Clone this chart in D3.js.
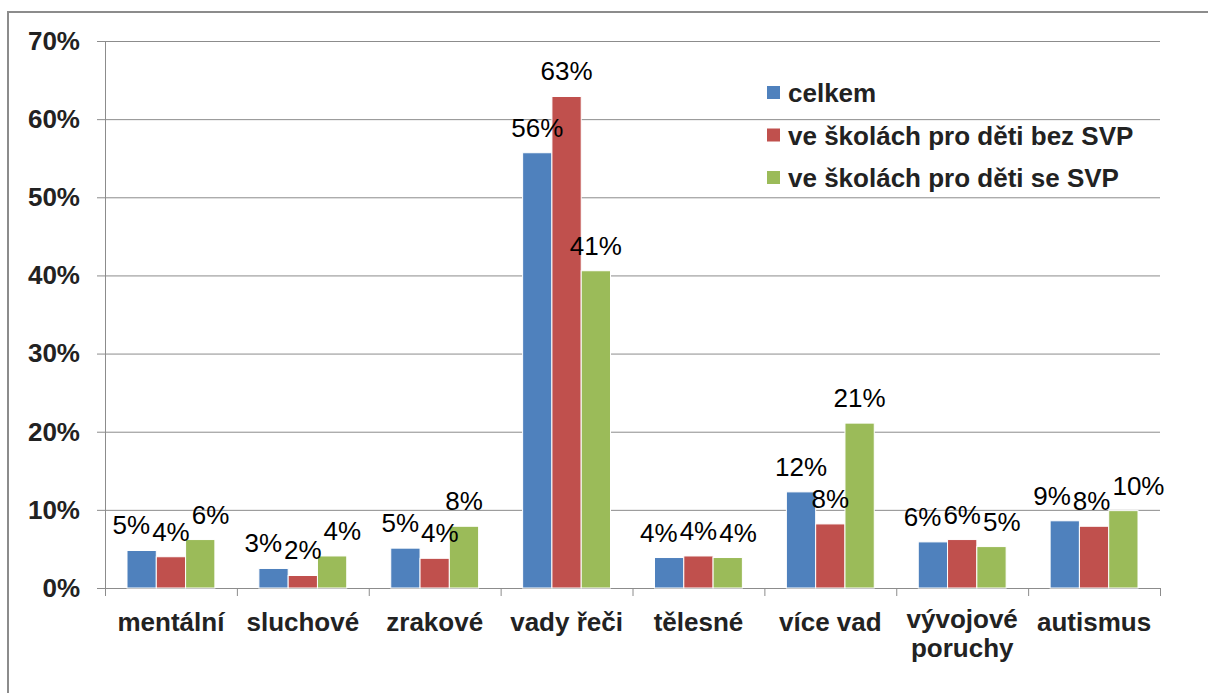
<!DOCTYPE html>
<html>
<head>
<meta charset="utf-8">
<script src="https://cdn.jsdelivr.net/npm/d3@7"></script>
<style>
  body { margin: 0; background: #fff; }
  text { font-family: "Liberation Sans", Arial, sans-serif; }
</style>
</head>
<body>
<div id="chart"></div>
<script>
// data
var categories = ["mentální", "sluchové", "zrakové", "vady řeči", "tělesné", "více vad", "vývojové poruchy", "autismus"];
var seriesNames = ["celkem", "ve školách pro děti bez SVP", "ve školách pro děti se SVP"];
var celkem   = [0.048, 0.025, 0.051, 0.557, 0.039, 0.123, 0.059, 0.086];
var bezSVP   = [0.040, 0.016, 0.038, 0.629, 0.041, 0.082, 0.062, 0.079];
var seSVP    = [0.062, 0.041, 0.079, 0.406, 0.039, 0.211, 0.053, 0.099];
var yTicks   = [0, 0.1, 0.2, 0.3, 0.4, 0.5, 0.6, 0.7];
var colors   = ["#4f81bd", "#c0504d", "#9bbb59"];

var seriesValues = [celkem, bezSVP, seSVP];

var W = 1208, H = 693;
var plotLeft = 105, plotRight = 1160, plotTop = 41, plotBottom = 588;

var svg = d3.select("#chart").append("svg")
    .attr("width", W)
    .attr("height", H);

// outer frame
svg.append("rect")
    .attr("x", 8).attr("y", 12)
    .attr("width", W + 20).attr("height", H + 20)
    .attr("fill", "#fff")
    .attr("stroke", "#8c8c8c")
    .attr("stroke-width", 2);

var y = d3.scaleLinear().domain([0, 0.7]).range([plotBottom, plotTop]);
var x = d3.scaleBand().domain(categories).range([plotLeft, plotRight]);
var x1 = d3.scaleBand().domain(d3.range(3)).range([22, x.bandwidth() - 22]);

// y axis + gridlines
var yAxis = svg.append("g")
    .attr("transform", "translate(" + plotLeft + ",0)")
    .call(d3.axisLeft(y).tickValues(yTicks).tickFormat(d3.format(".0%")).tickSize(8).tickPadding(17));
yAxis.select(".domain").attr("stroke", "#8c8c8c");
yAxis.selectAll(".tick line")
    .attr("x1", plotRight - plotLeft)
    .attr("x2", -8)
    .attr("stroke", "#8c8c8c");
yAxis.selectAll(".tick text")
    .attr("font-size", 26)
    .attr("font-weight", "bold")
    .attr("fill", "#222")
    .attr("font-family", "Liberation Sans, Arial, sans-serif");

// x axis tick marks at category boundaries
var xEdge = d3.scaleLinear().domain([0, categories.length]).range([plotLeft, plotRight]);
var xAxis = svg.append("g")
    .attr("transform", "translate(0," + plotBottom + ")")
    .call(d3.axisBottom(xEdge).ticks(categories.length).tickFormat("").tickSize(8));
xAxis.select(".domain").attr("stroke", "#8c8c8c");
xAxis.selectAll(".tick line").attr("stroke", "#8c8c8c");

// category labels
var catAxis = svg.append("g")
    .attr("transform", "translate(0," + plotBottom + ")")
    .call(d3.axisBottom(x).tickSize(0).tickPadding(0));
catAxis.select(".domain").remove();
catAxis.selectAll(".tick text")
    .attr("font-size", 26)
    .attr("font-weight", "bold")
    .attr("fill", "#222")
    .attr("font-family", "Liberation Sans, Arial, sans-serif")
    .attr("dy", null)
    .attr("y", 43)
    .each(function(d) {
        var t = d3.select(this);
        if (this.getComputedTextLength() > x.bandwidth()) {
            var words = d.split(" ");
            t.text(null);
            words.forEach(function(w, i) {
                t.append("tspan").attr("x", 0).attr("y", 40 + i * 29).text(w);
            });
        }
    });

// bars
var groups = svg.selectAll(".cat")
    .data(categories)
  .enter().append("g")
    .attr("class", "cat")
    .attr("transform", function(d) { return "translate(" + x(d) + ",0)"; });

groups.selectAll("rect")
    .data(function(d, i) { return seriesValues.map(function(s, k) { return {k: k, v: s[i]}; }); })
  .enter().append("rect")
    .attr("x", function(d) { return x1(d.k); })
    .attr("y", function(d) { return y(d.v); })
    .attr("width", x1.bandwidth())
    .attr("height", function(d) { return plotBottom - y(d.v); })
    .attr("fill", function(d) { return colors[d.k]; })
    .attr("stroke", "#fff")
    .attr("stroke-width", 1);

// data labels
groups.each(function(c, i) {
    var g = d3.select(this);
    var labels = seriesValues.map(function(s, k) {
        return {k: k, v: s[i], cx: x1(k) + x1.bandwidth() / 2, cy: y(s[i]) - 16};
    });
    var texts = g.selectAll(".lbl")
        .data(labels)
      .enter().append("text")
        .attr("class", "lbl")
        .attr("text-anchor", "middle")
        .attr("font-size", 26)
        .attr("fill", "#000")
        .attr("y", function(d) { return d.cy; })
        .text(function(d) { return d3.format(".0%")(d.v); });
    texts.each(function(d) { d.w = this.getComputedTextLength(); });
    // push apart labels sitting on the same level
    for (var it = 0; it < 10; it++) {
        for (var k = 0; k < labels.length - 1; k++) {
            var a = labels[k], b = labels[k + 1];
            if (Math.abs(a.cy - b.cy) > 20) continue;
            var overlap = (a.cx + a.w / 2 + 2) - (b.cx - b.w / 2);
            if (overlap > 0) { a.cx -= overlap / 2; b.cx += overlap / 2; }
        }
    }
    texts.attr("x", function(d) { return d.cx; });
});

// legend
var legend = svg.selectAll(".leg")
    .data(seriesNames)
  .enter().append("g")
    .attr("class", "leg")
    .attr("transform", function(d, i) { return "translate(767," + (93 + i * 42.5) + ")"; });
legend.append("rect")
    .attr("x", 0).attr("y", -7)
    .attr("width", 13).attr("height", 13)
    .attr("fill", function(d, i) { return colors[i]; });
legend.append("text")
    .attr("x", 21)
    .attr("dy", "0.36em")
    .attr("font-size", 26)
    .attr("font-weight", "bold")
    .attr("fill", "#222")
    .text(function(d) { return d; });
</script>
</body>
</html>
